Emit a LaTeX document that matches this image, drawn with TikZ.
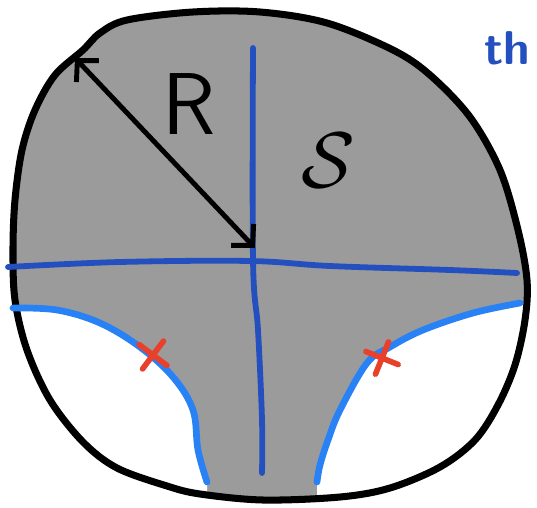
\documentclass[tikz,border=0pt]{standalone}
\usetikzlibrary{arrows.meta, shapes.misc}
\definecolor{sketchgray}{RGB}{155,155,155}
\definecolor{axisblue}{RGB}{35,80,190}
\definecolor{curveblue}{RGB}{40,130,245}
\definecolor{crossred}{RGB}{232,64,42}
\tikzset{
    sketch_outline/.style={
        draw=black,
        line width=4pt,
        line join=round
    },
    sketch_axis/.style={
        draw=axisblue,
        line width=3.3pt,
        line cap=round
    },
    sketch_curve/.style={
        draw=curveblue,
        line width=3.8pt,
        line cap=round
    },
    sketch_cross/.style={
        cross out,
        draw=crossred,
        line width=3.2pt,
        line cap=round,
        minimum size=0.38cm,
        inner sep=0pt
    },
    sketch_radius/.style={
        {Straight Barb[length=0.3cm,width=0.62cm]}-{Straight Barb[length=0.3cm,width=0.62cm]},
        line width=2.8pt,
        line cap=round
    },
    sketch_label/.style={
        font=\sffamily,
        inner sep=0pt
    }
}
\newcommand{\blobpath}{plot[smooth cycle, tension=0.55] coordinates {
    (83,50) (100,33) (127,20) (193,12) (260,12) (327,23) (393,50) (430,75)
    (470,117) (500,170) (518,230) (527,280) (525,320) (515,365) (498,405)
    (475,440) (440,467) (390,488) (340,497) (263,500) (200,494) (167,486)
    (117,468) (83,442) (50,400) (27,350) (15,300) (13,250) (15,200) (22,150)
    (35,110) (55,75)}}

\begin{document}
\begin{tikzpicture}[x=0.02cm, y=-0.02cm]

\useasboundingbox (0,0) rectangle (537,507);

% Filled disc
\fill[sketchgray] \blobpath;
\begin{scope}
  \clip \blobpath;
  \fill[white] (0,308) -- plot[smooth, tension=0.6] coordinates {(13,308) (57,310) (100,323) (140,347) (173,377) (193,410) (198,450) (207,482)}
    -- (207,520) -- (0,520) -- cycle;
  \fill[white] (537,303) -- plot[smooth, tension=0.6] coordinates {(520,303) (473,313) (423,330) (390,347) (367,363) (340,410) (328,440) (320,465) (317,482)}
    -- (317,520) -- (537,520) -- cycle;
\end{scope}
\draw[sketch_outline] \blobpath;

% Axes
\draw[sketch_axis] plot[smooth, tension=0.6] coordinates {(8,267) (120,262) (250,261) (330,266) (450,270) (517,273)};
\draw[sketch_axis] plot[smooth, tension=0.6] coordinates {(253,48) (253,260) (258,330) (262,420) (262,473)};

% Boundary curves
\draw[sketch_curve] plot[smooth, tension=0.6] coordinates {(13,308) (57,310) (100,323) (140,347) (173,377) (193,410) (198,450) (207,482)};
\draw[sketch_curve] plot[smooth, tension=0.6] coordinates {(520,303) (473,313) (423,330) (390,347) (367,363) (340,410) (328,440) (320,465) (317,482)};

% Marked points
\node[sketch_cross, rotate=8] (crossL) at (153,355) {};
\node[sketch_cross, rotate=23] (crossR) at (382,358) {};

% Radius
\coordinate (rim) at (75,58);
\coordinate (centre) at (255,248);
\draw[sketch_radius] (rim) -- (centre);

% Labels
\node[sketch_label, font=\sffamily\fontsize{50}{50}\selectfont] (labR) at (189,104) {R};
\node[sketch_label, scale=2.6, transform shape] (labS) at (328,161) {\LARGE$\mathcal{S}$};
\node[sketch_label, anchor=west, text=axisblue, font=\sffamily\bfseries\fontsize{27}{27}\selectfont] (labTh) at (484,48) {th};

\end{tikzpicture}
\end{document}
